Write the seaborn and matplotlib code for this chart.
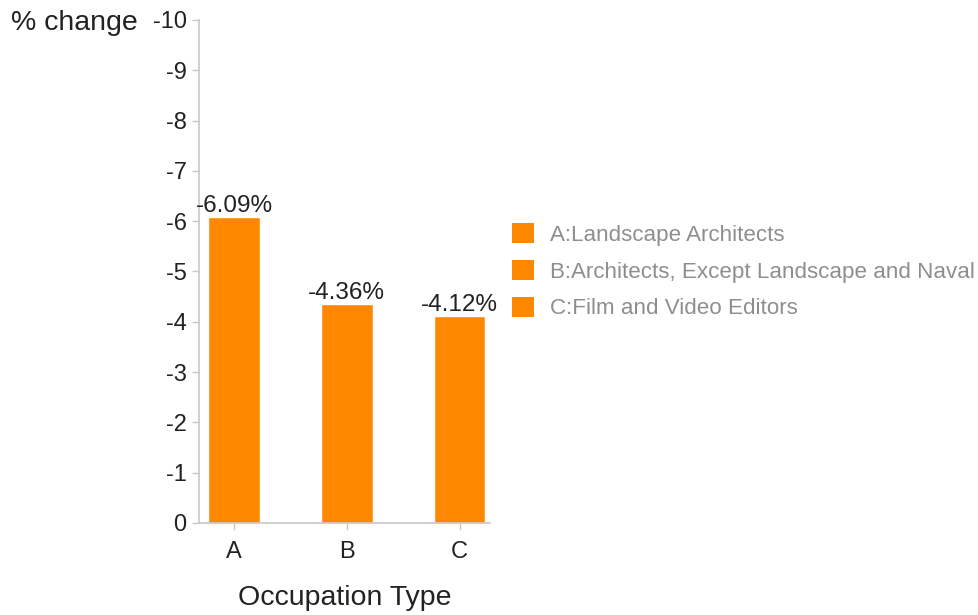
import matplotlib
matplotlib.use("Agg")
import matplotlib.pyplot as plt
from matplotlib.patches import Patch
import seaborn as sns
import pandas as pd

codes = ["A", "B", "C"]
occupations = [
    "Landscape Architects",
    "Architects, Except Landscape and Naval",
    "Film and Video Editors",
]
pct_change = [-6.09, -4.36, -4.12]
y_ticks = list(range(0, -11, -1))

bar_color = "#FF8800"
axis_gray = "#C8C8C8"

sns.set_theme(style="white")
plt.rcParams["font.family"] = ["Liberation Sans", "DejaVu Sans"]

df = pd.DataFrame({"code": codes, "change": pct_change})

fig = plt.figure(figsize=(9.79, 6.15), dpi=100)
ax = fig.add_axes([0.2033, 0.1496, 0.2972, 0.8179])

sns.barplot(data=df, x="code", y="change", color=bar_color, saturation=1,
            width=0.46, ax=ax)

ax.set_ylim(0, -10)
ax.set_xlim(-0.31, 2.27)
ax.set_yticks(y_ticks)
ax.set_yticklabels([str(t) for t in y_ticks])

for i, v in enumerate(pct_change):
    ax.text(i, v, f"{v:.2f}%", ha="center", va="bottom", fontsize=17.5,
            color="#222222")

for side in ("top", "right"):
    ax.spines[side].set_visible(False)
for side in ("left", "bottom"):
    ax.spines[side].set_color(axis_gray)
    ax.spines[side].set_linewidth(1.2)

ax.tick_params(axis="both", which="major", left=True, bottom=True,
               length=5, width=1, color=axis_gray,
               labelsize=17, labelcolor="#222222", direction="out")
ax.tick_params(axis="x", pad=8)
ax.tick_params(axis="y", pad=4)

ax.set_xlabel("Occupation Type", fontsize=20.5, color="#222222", labelpad=16)
ax.set_ylabel("% change", fontsize=20.5, color="#222222", rotation=0,
              ha="right", va="center")
ax.yaxis.set_label_coords(-0.209, 0.994)

handles = [Patch(facecolor=bar_color, edgecolor="none") for _ in codes]
labels = [f"{c}:{name}" for c, name in zip(codes, occupations)]
leg = fig.legend(handles, labels, loc="upper left",
                 bbox_to_anchor=(0.523, 0.637), frameon=False, fontsize=16.1,
                 handlelength=1.0, handleheight=1.0, handletextpad=0.7,
                 labelspacing=0.63, borderaxespad=0, borderpad=0)
for t in leg.get_texts():
    t.set_color("#8E8E8E")

fig.savefig("out.png", dpi=100)
